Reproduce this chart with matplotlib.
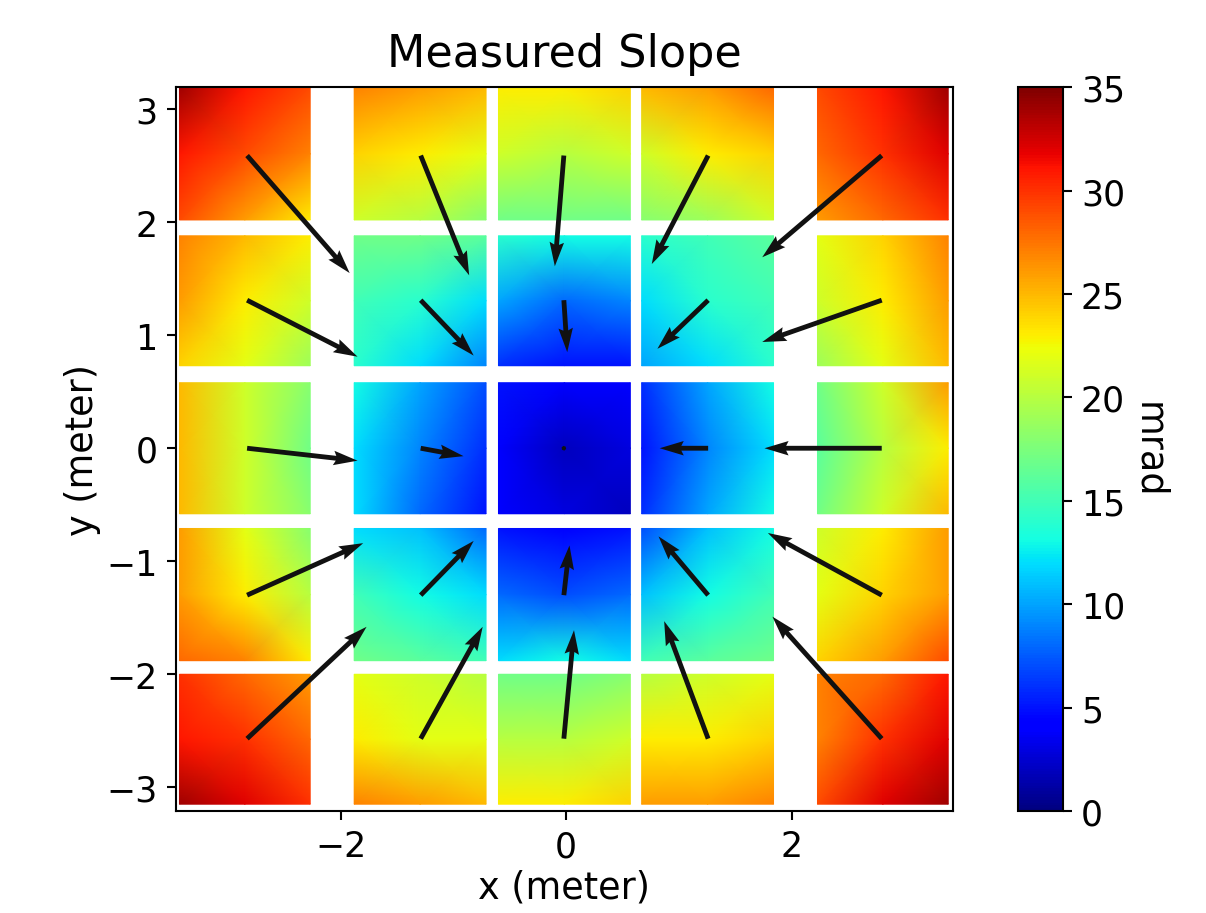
import numpy as np
import matplotlib
matplotlib.use("Agg")
import matplotlib.pyplot as plt

# ---- data ----
# panel extents (meters)
panel_x = [(-3.43, -2.27), (-1.88, -0.71), (-0.60, 0.57), (0.67, 1.84), (2.23, 3.39)]
panel_y = [(3.19, 2.02), (1.88, 0.73), (0.58, -0.58), (-0.71, -1.88), (-2.00, -3.15)]  # top -> bottom

# slope magnitude (mrad) at 3x3 nodes of every panel; each row block = one panel row,
# each line = one node row (top, middle, bottom), 3 values per panel column
slope_row1 = [[34, 31, 29,  27, 26, 25,  23, 23, 24,  25, 26, 28,  29, 31, 34],
              [31, 29, 27,  24, 23, 22,  21, 20, 21,  21, 23, 24,  28, 30, 32],
              [29, 26, 23,  21, 20, 18,  17, 17, 17,  18, 19, 21,  26, 28, 30]]
slope_row2 = [[27, 25, 23,  17, 17, 16,  14, 13, 13,  14, 15, 16,  22, 24, 27],
              [26, 23, 21,  15, 14, 12,  10,  8,  9,  12, 14, 15,  21, 23, 26],
              [24, 22, 19,  14, 12,  9,   6,  5,  5,  10, 12, 14,  19, 22, 25]]
slope_row3 = [[25, 21, 18,  13, 10,  7,   5,  4,  4,   6, 10, 13,  17, 21, 26],
              [25, 21, 17,  12,  9,  6,   4,  2,  3,   5,  9, 12,  16, 20, 23],
              [25, 21, 18,  12,  8,  5,   4,  3,  2,   6, 10, 13,  17, 21, 25]]
slope_row4 = [[26, 22, 18,  12, 11,  8,   5,  4,  5,   7, 11, 13,  21, 23, 26],
              [26, 23, 20,  15, 13, 12,   8,  7,  8,  11, 13, 15,  22, 24, 26],
              [28, 27, 23,  17, 16, 15,  12, 13, 12,  15, 16, 17,  24, 26, 29]]
slope_row5 = [[30, 28, 26,  22, 21, 20,  17, 17, 18,  20, 21, 22,  27, 28, 31],
              [31, 30, 28,  23, 22, 22,  20, 20, 21,  23, 23, 24,  27, 30, 32],
              [34, 32, 30,  27, 26, 25,  23, 23, 24,  26, 26, 27,  29, 32, 34]]

# arrows: tail positions and vectors (meters)
arrow_x = [-2.83, -1.29, -0.02, 1.26, 2.80]
arrow_y = [2.59, 1.31, 0.00, -1.30, -2.57]
arrow_u = [[0.91, 0.43, -0.08, -0.50, -1.06],
           [0.98, 0.47, 0.03, -0.45, -1.06],
           [0.98, 0.38, 0.03, -0.43, -1.04],
           [1.03, 0.47, 0.05, -0.44, -1.01],
           [1.06, 0.55, 0.09, -0.39, -0.97]]
arrow_v = [[-1.04, -1.06, -0.98, -0.96, -0.90],
           [-0.50, -0.49, -0.46, -0.43, -0.37],
           [-0.11, -0.07, -0.01, 0.00, 0.00],
           [0.46, 0.48, 0.44, 0.52, 0.55],
           [0.99, 0.99, 0.96, 1.04, 1.08]]

xlim = (-3.46, 3.43)
ylim = (-3.21, 3.195)

# ---- figure ----
fig = plt.figure(figsize=(6.4, 4.85), dpi=188.44)
ax = fig.add_axes([0.146, 0.1116, 0.644, 0.792])
cax = fig.add_axes([0.844, 0.1116, 0.037, 0.792])

cmap = plt.get_cmap("jet")
slope_rows = [slope_row1, slope_row2, slope_row3, slope_row4, slope_row5]
mesh = None
for r, (y0, y1) in enumerate(panel_y):
    block = np.array(slope_rows[r], dtype=float)
    for c, (x0, x1) in enumerate(panel_x):
        vals = block[:, 3 * c:3 * c + 3]
        X = np.array([x0, (x0 + x1) / 2, x1])
        Y = np.array([y0, (y0 + y1) / 2, y1])
        mesh = ax.pcolormesh(X, Y, vals, shading="gouraud", cmap=cmap, vmin=0, vmax=35)

XX, YY = np.meshgrid(arrow_x, arrow_y)
ax.quiver(XX, YY, np.array(arrow_u), np.array(arrow_v), angles="xy", scale_units="xy",
          scale=1, color="#111111", width=0.0062, headwidth=3.0, headlength=5.0,
          headaxislength=4.5, zorder=3)

ax.set_xlim(*xlim)
ax.set_ylim(*ylim)
ax.set_xticks([-2, 0, 2])
ax.set_yticks([-3, -2, -1, 0, 1, 2, 3])
ax.tick_params(labelsize=13.3)
ax.set_xlabel("x (meter)", fontsize=14, labelpad=2)
ax.set_ylabel("y (meter)", fontsize=14, labelpad=2)
ax.set_title("Measured Slope", fontsize=17, pad=8)

cb = fig.colorbar(mesh, cax=cax)
cb.set_ticks([0, 5, 10, 15, 20, 25, 30, 35])
cb.ax.tick_params(labelsize=13.3)
cb.set_label("mrad", rotation=270, fontsize=14, labelpad=16)

fig.savefig("out.png", dpi=188.44)
